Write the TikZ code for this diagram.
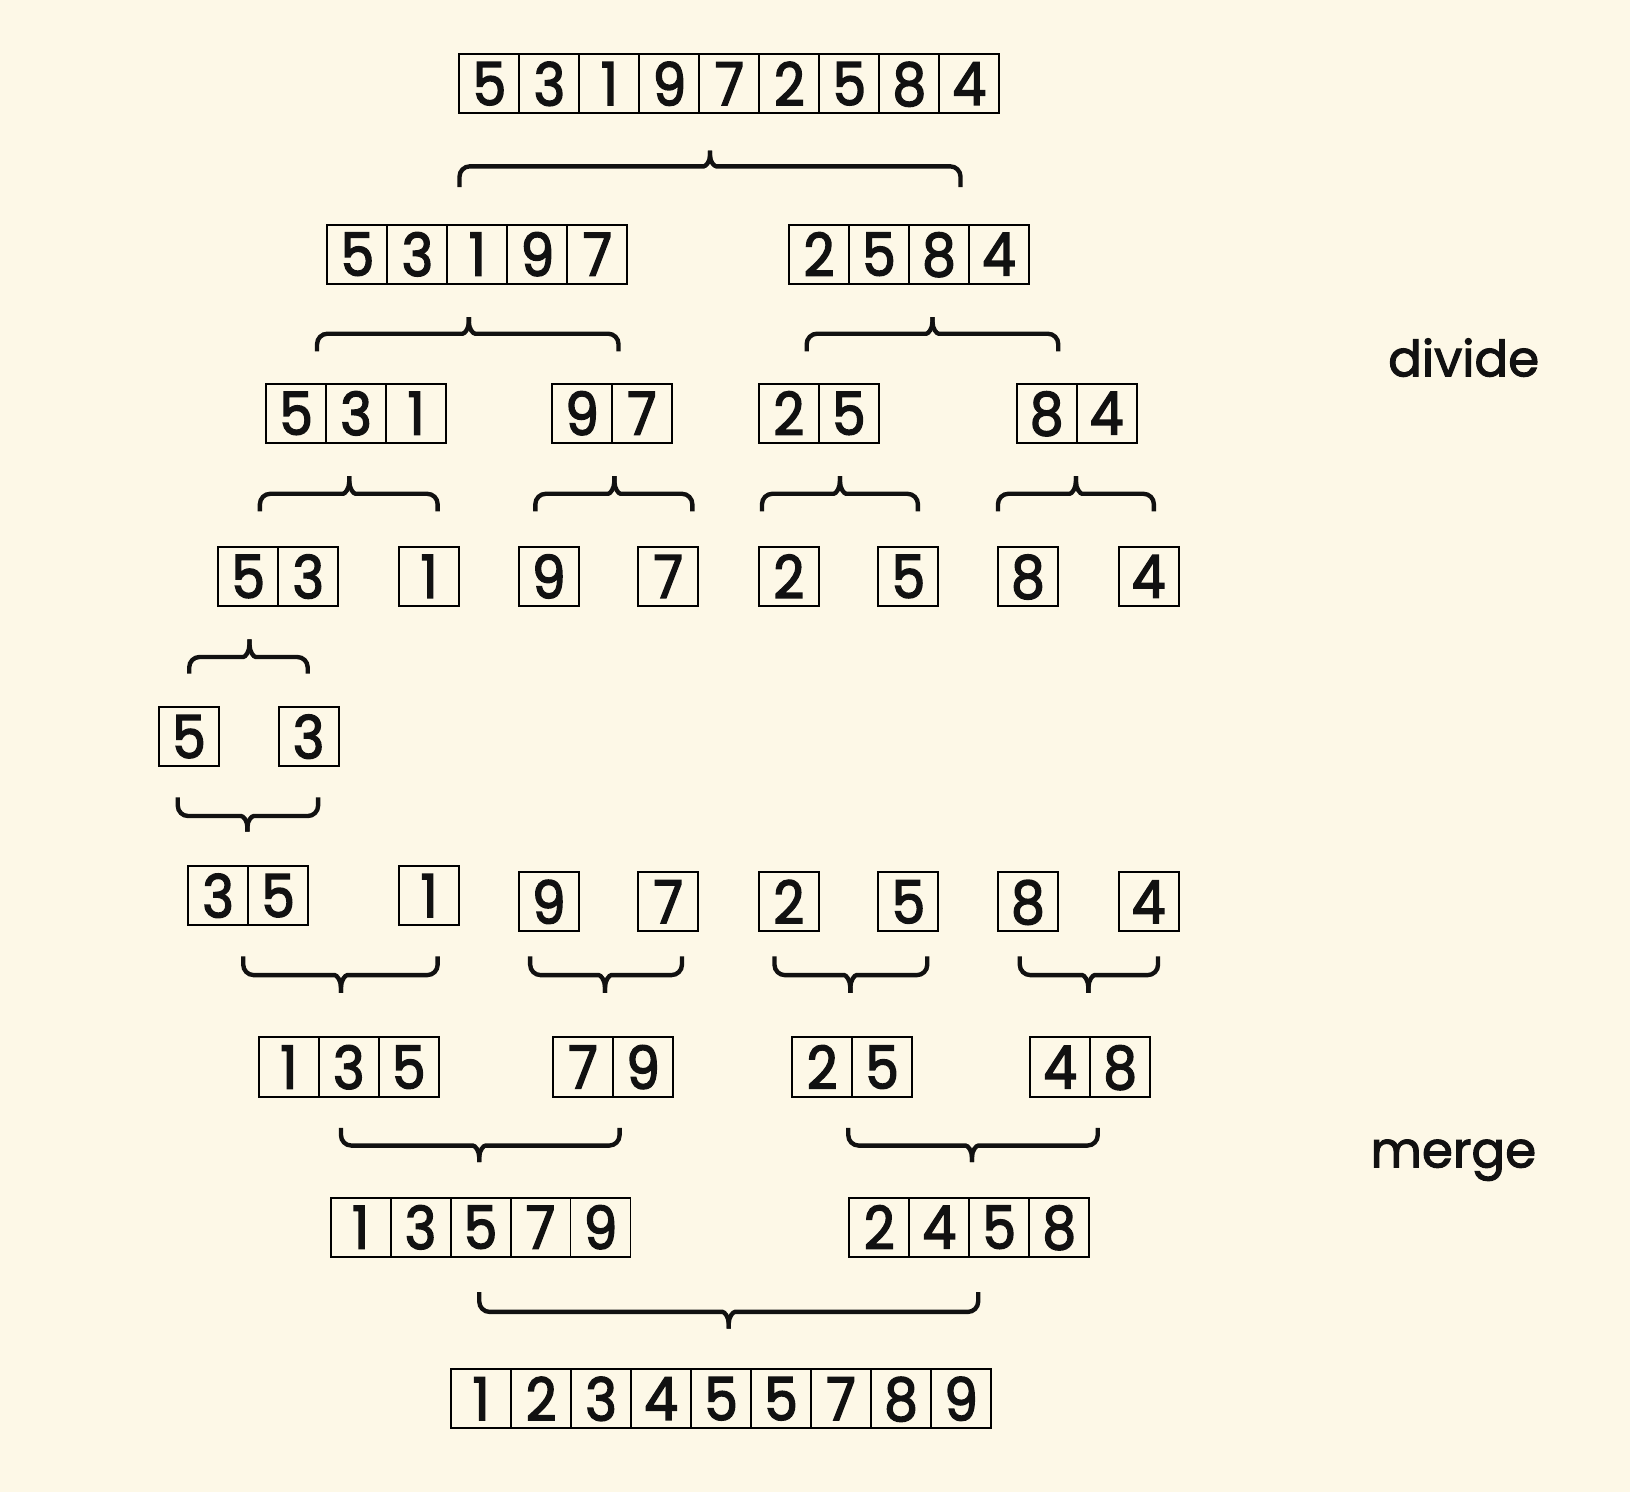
\documentclass[tikz,border=0pt]{standalone}
\usepackage{fontspec}
\setmainfont{Poppins}
\newfontfamily\digf{Poppins}[FakeBold=2.6,FakeStretch=0.9]
\newfontfamily\labf{Poppins}[FakeBold=2.2]
\definecolor{bg}{RGB}{253,248,231}
\definecolor{ink}{RGB}{17,17,17}
\newcommand\cellrow[4]{%
  \foreach \d [count=\i] in {#4} {\node[cell] (#1\i) at ({#2+(\i-0.5)*57.7},{#3+28.5}) {\d};}}
\newcommand\brc[6]{% xl xr xm yline ytip yend
  \draw[brcs] (#1,#6) [rounded corners=5pt] |- ({#3-16},#4) [sharp corners]
     .. controls ({#3-4},#4) and (#3,{#4+0.3*(#5-#4)}) .. (#3,{#4+0.7*(#5-#4)}) -- (#3,#5);
  \draw[brcs] (#2,#6) [rounded corners=5pt] |- ({#3+16},#4) [sharp corners]
     .. controls ({#3+4},#4) and (#3,{#4+0.3*(#5-#4)}) .. (#3,{#4+0.7*(#5-#4)}) -- (#3,#5);}
\begin{document}
\begin{tikzpicture}[x=0.5pt,y=-0.5pt,
  cell/.style={draw=black, line width=0.95pt, minimum width=28.85pt, minimum height=28.5pt,
    inner sep=0pt, text=ink, font=\digf\fontsize{28.5}{28.5}\selectfont, text depth=0pt},
  brcs/.style={draw=ink, line width=2.1pt, line cap=butt},
  lbl/.style={text=ink, inner sep=0pt, anchor=base west, font=\labf\fontsize{24}{24}\selectfont}]
\fill[bg] (0,0) rectangle (1568,1435);
\useasboundingbox (0,0) rectangle (1568,1435);
% divide
\cellrow{a}{442}{52}{5,3,1,9,7,2,5,8,4}
\brc{442}{924}{683}{160}{145}{180}
\cellrow{ba}{315}{216}{5,3,1,9,7}
\cellrow{bb}{759}{216}{2,5,8,4}
\brc{305}{595}{451}{321}{305}{338}
\brc{776}{1018}{897}{321}{305}{338}
\cellrow{ca}{256}{369}{5,3,1}
\cellrow{cb}{531}{369}{9,7}
\cellrow{cc}{730}{369}{2,5}
\cellrow{cd}{978}{369}{8,4}
\brc{250}{421}{336}{475}{458}{492}
\brc{515}{666}{591}{475}{458}{492}
\brc{733}{883}{808}{475}{458}{492}
\brc{960}{1110}{1035}{475}{458}{492}
\cellrow{da}{210}{526}{5,3}
\cellrow{db}{384}{526}{1}
\cellrow{dc}{499}{526}{9}
\cellrow{dd}{614}{526}{7}
\cellrow{de}{730}{526}{2}
\cellrow{df}{845}{526}{5}
\cellrow{dg}{960}{526}{8}
\cellrow{dh}{1076}{526}{4}
\brc{182}{296}{240}{632}{615}{648}
\cellrow{ea}{153}{680}{5}
\cellrow{eb}{268}{680}{3}
% merge
\brc{171}{306}{238}{785}{800}{767}
\cellrow{fa}{181}{833}{3,5}
\cellrow{fb}{384}{833}{1}
\cellrow{fc}{499}{839}{9}
\cellrow{fd}{614}{839}{7}
\cellrow{fe}{730}{839}{2}
\cellrow{ff}{845}{839}{5}
\cellrow{fg}{960}{839}{8}
\cellrow{fh}{1076}{839}{4}
\brc{234}{421}{328}{938}{955}{920}
\brc{510}{656}{582}{938}{955}{920}
\brc{745}{892}{818}{938}{955}{920}
\brc{981}{1114}{1047}{938}{955}{920}
\cellrow{ga}{249}{998}{1,3,5}
\cellrow{gb}{532}{998}{7,9}
\cellrow{gc}{762}{998}{2,5}
\cellrow{gd}{991}{998}{4,8}
\brc{328}{596}{461}{1102}{1118}{1085}
\brc{816}{1056}{935}{1102}{1118}{1085}
\cellrow{ha}{318}{1152}{1,3,5,7,9}
\cellrow{hb}{817}{1152}{2,4,5,8}
\brc{461}{941}{701}{1262}{1278}{1243}
\cellrow{ia}{434}{1317}{1,2,3,4,5,5,7,8,9}
\node[lbl] (divide) at (1335,362) {divide};
\node[lbl] (merge) at (1318,1123) {merge};
\end{tikzpicture}
\end{document}
